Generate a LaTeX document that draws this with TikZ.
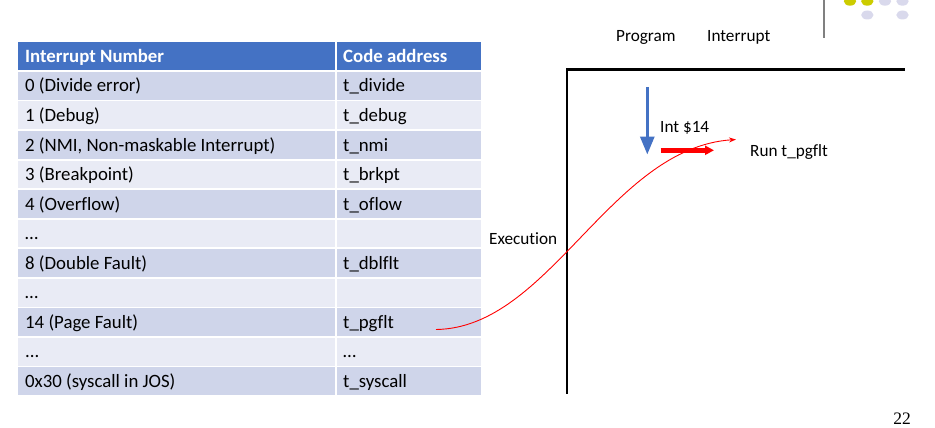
\documentclass[tikz,border=0pt]{standalone}
\usepackage{fontspec}
\setmainfont{Carlito}[Ligatures=CommonOff]
\newfontfamily\pagefont{Liberation Serif}
\usetikzlibrary{arrows.meta}
\definecolor{hdrblue}{HTML}{4472C4}
\definecolor{rowdark}{HTML}{CFD5EA}
\definecolor{rowlight}{HTML}{E9EBF5}
\definecolor{dotyellow}{HTML}{CCCC00}
\definecolor{dotlilac}{HTML}{D9D9EC}
\tikzset{
	cell/.style={anchor=base west, inner sep=0pt, font=\fontsize{18.8}{20}\selectfont},
	hdr/.style={anchor=base west, inner sep=0pt, text=white, font=\fontsize{18.8}{20}\selectfont\bfseries},
	lbl/.style={anchor=base west, inner sep=0pt, font=\fontsize{17.2}{18}\selectfont},
}

\begin{document}
\begin{tikzpicture}[x=1pt, y=-1pt]
			%%%%% START %%%%%
			\useasboundingbox (0, 0) rectangle (935, 428);
			
			% table rows
			\fill[hdrblue] (18, 42.3) rectangle (481, 70.1);
			\fill[rowdark] (18, 71.85) rectangle (481, 99.65);
			\fill[rowlight] (18, 101.4) rectangle (481, 129.2);
			\fill[rowdark] (18, 130.95) rectangle (481, 158.75);
			\fill[rowlight] (18, 160.5) rectangle (481, 188.3);
			\fill[rowdark] (18, 190.05) rectangle (481, 217.85);
			\fill[rowlight] (18, 219.6) rectangle (481, 247.4);
			\fill[rowdark] (18, 249.15) rectangle (481, 276.95);
			\fill[rowlight] (18, 278.7) rectangle (481, 306.5);
			\fill[rowdark] (18, 308.25) rectangle (481, 336.05);
			\fill[rowlight] (18, 337.8) rectangle (481, 365.6);
			\fill[rowdark] (18, 367.35) rectangle (481, 395.15);
			\draw[line width=2pt, white] (336, 42) -- (336, 396);
			
			\node[hdr] (hnum) at (25, 62.6) {Interrupt Number};
			\node[hdr] (haddr) at (343, 62.6) {Code address};
			
			\node[cell] (n0) at (25, 91.9) {0 (Divide error)};
			\node[cell] (a0) at (343, 91.9) {t\_divide};
			\node[cell] (n1) at (25, 121.5) {1 (Debug)};
			\node[cell] (a1) at (343, 121.5) {t\_debug};
			\node[cell] (n2) at (25, 151) {2 (NMI, Non-maskable Interrupt)};
			\node[cell] (a2) at (343, 151) {t\_nmi};
			\node[cell] (n3) at (25, 180.6) {3 (Breakpoint)};
			\node[cell] (a3) at (343, 180.6) {t\_brkpt};
			\node[cell] (n4) at (25, 210.1) {4 (Overflow)};
			\node[cell] (a4) at (343, 210.1) {t\_oflow};
			\node[cell] (ndots1) at (25, 239.7) {…};
			\node[cell] (n8) at (25, 269.2) {8 (Double Fault)};
			\node[cell] (a8) at (343, 269.2) {t\_dblflt};
			\node[cell] (ndots2) at (25, 298.8) {…};
			\node[cell] (n14) at (25, 328.3) {14 (Page Fault)};
			\node[cell] (a14) at (343, 328.3) {t\_pgflt};
			\node[cell] (ndots3) at (25, 357.9) {...};
			\node[cell] (adots3) at (343, 357.9) {…};
			\node[cell] (n30) at (25, 387.4) {0x30 (syscall in JOS)};
			\node[cell] (a30) at (343, 387.4) {t\_syscall};
			
			% execution axes
			\draw[line width=2.5pt, line cap=rect] (567, 392.5) -- (567, 69.5) -- (904, 69.5);
			\node[lbl] (prog) at (616, 41.5) {Program};
			\node[lbl] (intr) at (707, 41.5) {Interrupt};
			\node[lbl] (exec) at (489, 244) {Execution};
			
			% program flow
			\coordinate (progtop) at (647.3, 87);
			\coordinate (progbot) at (647.3, 154.5);
			\draw[line width=3pt, color=hdrblue, -{Triangle[width=14pt, length=18pt]}] (progtop) -- (progbot);
			\node[lbl] (int14) at (660, 132) {Int \$14};
			
			\coordinate (runS) at (660.5, 150.3);
			\coordinate (runE) at (714, 150.3);
			\draw[line width=5.5pt, color=red, -{Triangle[width=9pt, length=9pt]}] (runS) -- (runE);
			\node[lbl] (run) at (750, 156) {Run t\_pgflt};
			
			% jump from table entry
			\coordinate (jumpS) at (436, 329.5);
			\coordinate (jumpE) at (736, 139.5);
			\draw[line width=0.9pt, color=red, -{Stealth[width=5pt, length=7pt]}] (jumpS) .. controls (550, 328) and (610, 148) .. (jumpE);
			
			% corner decoration
			\draw[line width=2pt, color=black!50] (823.7, 0) -- (823.7, 37.7);
			\fill[dotyellow] (850, 1.2) ellipse (6.2 and 4.5);
			\fill[dotyellow] (867.3, 1.2) ellipse (6.2 and 4.5);
			\fill[dotlilac] (885, 1.2) ellipse (6.2 and 4.5);
			\fill[dotlilac] (902.5, 1.2) ellipse (6.2 and 4.5);
			\fill[dotlilac] (867.3, 15) ellipse (6.2 and 4.5);
			\fill[dotlilac] (902.5, 15) ellipse (6.2 and 4.5);
			
			\node[inner sep=0pt, font=\pagefont\fontsize{17.5}{19}\selectfont] (pagenum) at (902, 419) {22};
			%%%%% END %%%%%
\end{tikzpicture}
\end{document}
